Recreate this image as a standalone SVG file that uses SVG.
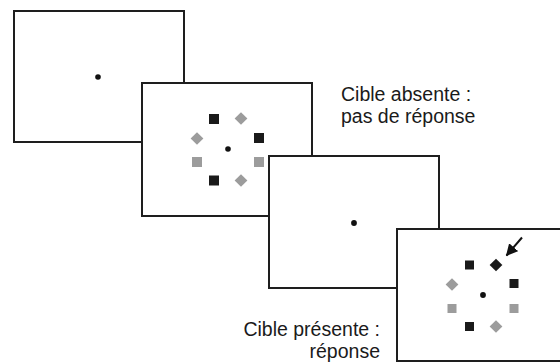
<svg xmlns="http://www.w3.org/2000/svg" width="560" height="363" viewBox="0 0 560 363">
  <style>
    .frame { fill: #ffffff; stroke: #1e1e1e; stroke-width: 2; }
    .dot { fill: #111111; }
    .blk { fill: #1a1a1a; }
    .gry { fill: #9c9c9c; }
    .lbl { font-family: "Liberation Sans", Arial, sans-serif; font-size: 19.5px; fill: #1a1a1a; }
  </style>
  <defs>
    <marker id="ah" markerWidth="12" markerHeight="12" refX="11" refY="6" orient="auto" markerUnits="userSpaceOnUse">
      <path d="M0,0 L12,6 L0,12 Z" fill="#111111"/>
    </marker>
    <rect id="sq" x="-5" y="-5" width="10" height="10"/>
    <rect id="dm" x="-4.5" y="-4.5" width="9" height="9" transform="rotate(45)"/>
  </defs>
  <rect width="560" height="363" fill="#ffffff"/>

  <g id="frame1">
    <rect class="frame" x="14" y="11" width="170" height="131"/>
    <circle class="dot" cx="98" cy="77" r="2.8"/>
  </g>

  <g id="frame2">
    <rect class="frame" x="142" y="83" width="170" height="133"/>
    <circle class="dot" cx="228" cy="149" r="2.8"/>
    <use href="#sq" class="blk" x="214" y="119"/>
    <use href="#dm" class="gry" transform="translate(241,118.5)"/>
    <use href="#dm" class="gry" transform="translate(197,138.5)"/>
    <use href="#sq" class="blk" x="259" y="138"/>
    <use href="#sq" class="gry" x="197" y="162"/>
    <use href="#sq" class="gry" x="259" y="162"/>
    <use href="#sq" class="blk" x="214" y="180.5"/>
    <use href="#dm" class="gry" transform="translate(241,180.5)"/>
  </g>

  <g id="frame3">
    <rect class="frame" x="269" y="156" width="170" height="132"/>
    <circle class="dot" cx="354" cy="223" r="2.9"/>
  </g>

  <g id="frame4">
    <rect class="frame" x="397" y="229" width="170" height="132"/>
    <circle class="dot" cx="483" cy="295" r="2.9"/>
    <use href="#sq" class="blk" transform="translate(469.5,265) scale(0.9)"/>
    <use href="#dm" class="blk" transform="translate(496,265)"/>
    <use href="#dm" class="gry" transform="translate(452,284.5)"/>
    <use href="#sq" class="blk" transform="translate(514,283.5) scale(0.9)"/>
    <use href="#sq" class="gry" transform="translate(452,308.5) scale(0.9)"/>
    <use href="#sq" class="gry" transform="translate(514,308.5) scale(0.9)"/>
    <use href="#sq" class="blk" transform="translate(469.5,326.5) scale(0.9)"/>
    <use href="#dm" class="gry" transform="translate(496,326.5)"/>
  </g>

  <g id="connectors">
    <line x1="522" y1="237.5" x2="506.5" y2="255.5" stroke="#111111" stroke-width="2" marker-end="url(#ah)"/>
  </g>

  <g id="labels">
    <text class="lbl" x="341" y="101">Cible absente :</text>
    <text class="lbl" x="341" y="123">pas de réponse</text>
    <text class="lbl" x="380" y="336" text-anchor="end">Cible présente :</text>
    <text class="lbl" x="380" y="358" text-anchor="end">réponse</text>
  </g>
</svg>
